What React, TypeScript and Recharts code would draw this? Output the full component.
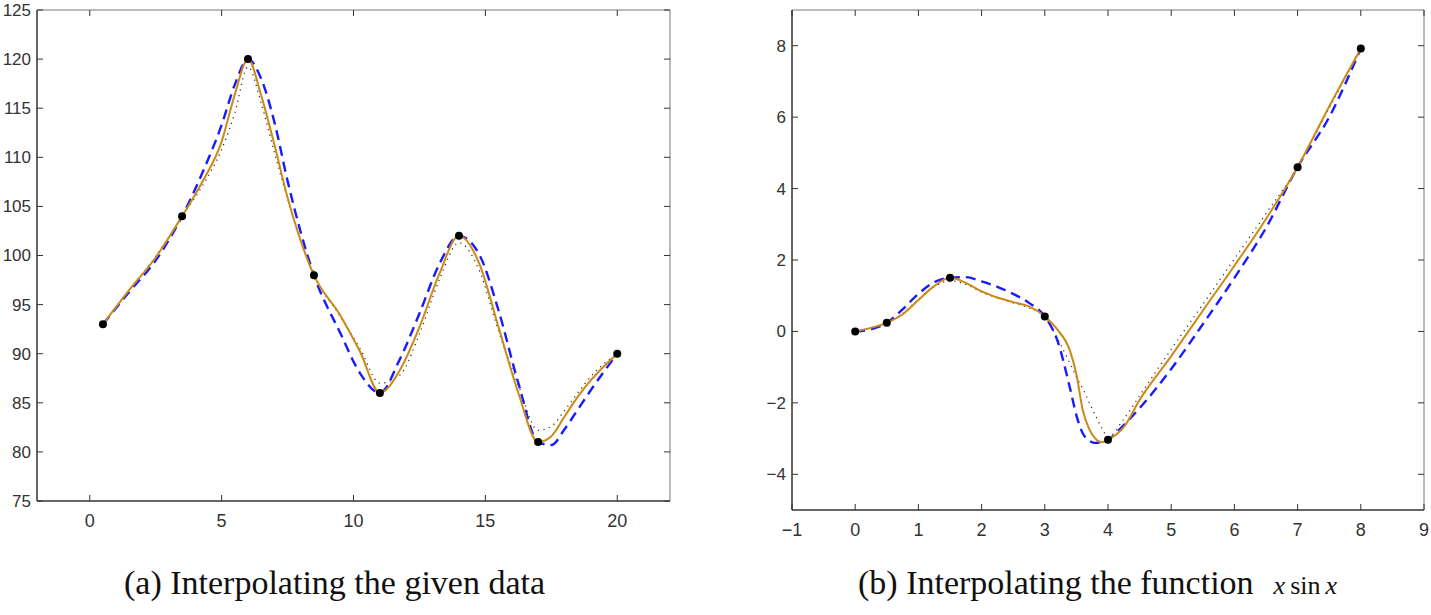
import React from 'react';
import { LineChart, Line, XAxis, YAxis } from 'recharts';

// (a) given data points
const dataAX = [0.5, 3.5, 6, 8.5, 11, 14, 17, 20];
const dataAY = [93, 104, 120, 98, 86, 102, 81, 90];
const ticksAX = [0, 5, 10, 15, 20];
const ticksAY = [75, 80, 85, 90, 95, 100, 105, 110, 115, 120, 125];

// (a) curves on a shared x grid
const gridA = [0.5, 1.5, 2.5, 3.5, 4.25, 5, 5.5, 6, 6.5, 7, 7.5, 8.5, 9.5, 10.25, 11, 11.75, 12.5, 13.25, 14, 14.75, 15.5, 16.25, 17, 17.5, 18, 18.5, 19, 20];
const dottedA = [93, 96.5, 99.9, 104, 107.0, 110.8, 114.5, 119.2, 115.5, 110.5, 105.8, 98, 93.8, 90.5, 87, 87.8, 92, 97.5, 101.3, 98.6, 92.3, 86.8, 82.2, 82.6, 84.2, 86, 87.7, 90];
const splineA = [93, 96.3, 99.5, 104, 108.3, 113.3, 117.4, 120, 118.0, 113.6, 107.6, 98, 92.1, 88.0, 86, 89.4, 94.1, 99.1, 102, 100.2, 94.4, 87, 81, 80.7, 82.3, 84.3, 86.3, 90];
const solidA = [93, 96.5, 99.8, 104, 107.4, 111.6, 116.4, 120, 116.3, 111.3, 105.9, 98, 93.9, 90.2, 86, 88.3, 92.7, 98.1, 102, 99.3, 92.7, 86, 81, 81.6, 83.6, 85.6, 87.3, 90];

// (b) samples of x sin x
const dataBX = [0, 0.5, 1.5, 3, 4, 7, 8];
const dataBY = [0, 0.24, 1.5, 0.42, -3.03, 4.6, 7.92];
const ticksBX = [-1, 0, 1, 2, 3, 4, 5, 6, 7, 8, 9];
const ticksBY = [-4, -2, 0, 2, 4, 6, 8];

// (b) curves
const gridB = [0, 0.25, 0.5, 0.75, 1, 1.25, 1.5, 1.75, 2, 2.25, 2.5, 2.75, 3, 3.2, 3.4, 3.5, 3.6, 3.7, 3.8, 3.9, 4, 4.25, 4.5, 5, 5.5, 6, 6.5, 7, 7.5, 8];
const dottedB = [0, 0.1, 0.24, 0.5, 0.9, 1.25, 1.42, 1.32, 1.1, 0.94, 0.8, 0.66, 0.42, -0.2, -0.9, -1.28, -1.6, -1.98, -2.35, -2.7, -2.95, -2.45, -1.8, -0.5, 0.76, 2.03, 3.3, 4.6, 6.26, 7.92];
const splineB = [0, 0.06, 0.24, 0.62, 1.05, 1.38, 1.5, 1.52, 1.4, 1.25, 1.05, 0.8, 0.42, -0.26, -1.6, -2.35, -2.85, -3.05, -3.12, -3.1, -3.03, -2.62, -2.15, -1.05, 0.2, 1.5, 2.9, 4.6, 6.0, 7.92];
const solidB = [0, 0.1, 0.24, 0.48, 0.88, 1.27, 1.5, 1.36, 1.12, 0.95, 0.82, 0.7, 0.42, 0.05, -0.55, -1.2, -2.2, -2.72, -3.0, -3.1, -3.03, -2.68, -1.92, -0.69, 0.58, 1.84, 3.15, 4.6, 6.3, 7.92];

const pointsA = dataAX.map((x, i) => ({ x, y: dataAY[i] }));
const pointsB = dataBX.map((x, i) => ({ x, y: dataBY[i] }));
const curvesA = gridA.map((x, i) => ({ x, dot: dottedA[i], spl: splineA[i], sol: solidA[i] }));
const curvesB = gridB.map((x, i) => ({ x, dot: dottedB[i], spl: splineB[i], sol: solidB[i] }));

const AXIS = '#333';
const LIGHT = '#777';
const ORANGE = '#cc8a14';
const BLUE = '#1a1aff';
const TICK_FONT = '"Liberation Sans", Arial, sans-serif';
const TICK = 6;

const fmt = (v: number) => (v < 0 ? '\u2212' + Math.abs(v) : String(v));

function makeTick(side: 'bottom' | 'top' | 'left' | 'right') {
  return (props: any) => {
    const { x, y, payload } = props;
    const v = payload.value;
    if (side === 'bottom') {
      return (
        <g>
          <line x1={x} x2={x} y1={y} y2={y - TICK} stroke={AXIS} strokeWidth={1} />
          <text x={x} y={y + 26} textAnchor="middle" fontSize={18} fontFamily={TICK_FONT} fill="#333">
            {fmt(v)}
          </text>
        </g>
      );
    }
    if (side === 'top') {
      return <line x1={x} x2={x} y1={y} y2={y + TICK} stroke={AXIS} strokeWidth={1} />;
    }
    if (side === 'left') {
      return (
        <g>
          <line x1={x} x2={x + TICK} y1={y} y2={y} stroke={AXIS} strokeWidth={1} />
          <text x={x - 6} y={y} dy="0.35em" textAnchor="end" fontSize={17} fontFamily={TICK_FONT} fill="#333">
            {fmt(v)}
          </text>
        </g>
      );
    }
    return <line x1={x} x2={x - TICK} y1={y} y2={y} stroke={AXIS} strokeWidth={1} />;
  };
}

interface PanelProps {
  curves: { x: number; dot: number; spl: number; sol: number }[];
  points: { x: number; y: number }[];
  width: number;
  height: number;
  margin: { top: number; right: number; bottom: number; left: number };
  xDomain: [number, number];
  yDomain: [number, number];
  xTicks: number[];
  yTicks: number[];
}

function Panel({ curves, points, width, height, margin, xDomain, yDomain, xTicks, yTicks }: PanelProps) {
  const common = {
    type: 'number' as const,
    interval: 0 as const,
    allowDataOverflow: true,
    tickSize: 0,
    tickMargin: 0,
    tickLine: false,
  };
  return (
    <LineChart width={width} height={height} margin={margin} style={{ overflow: 'visible' }}>
      <XAxis
        {...common}
        dataKey="x"
        domain={xDomain}
        ticks={xTicks}
        height={1}
        axisLine={{ stroke: AXIS, strokeWidth: 1.5 }}
        tick={makeTick('bottom')}
      />
      <XAxis
        {...common}
        xAxisId="top"
        orientation="top"
        dataKey="x"
        domain={xDomain}
        ticks={xTicks}
        height={1}
        axisLine={{ stroke: LIGHT, strokeWidth: 1 }}
        tick={makeTick('top')}
      />
      <YAxis
        {...common}
        domain={yDomain}
        ticks={yTicks}
        width={1}
        axisLine={{ stroke: AXIS, strokeWidth: 1.5 }}
        tick={makeTick('left')}
      />
      <YAxis
        {...common}
        yAxisId="right"
        orientation="right"
        domain={yDomain}
        ticks={yTicks}
        width={1}
        axisLine={{ stroke: LIGHT, strokeWidth: 1 }}
        tick={makeTick('right')}
      />
      <Line
        data={curves}
        type="monotoneX"
        dataKey="dot"
        stroke="#333"
        strokeWidth={1.3}
        strokeDasharray="1.2 4.5"
        dot={false}
        isAnimationActive={false}
      />
      <Line
        data={curves}
        type="monotoneX"
        dataKey="spl"
        stroke={BLUE}
        strokeWidth={2.4}
        strokeDasharray="10 6"
        dot={false}
        isAnimationActive={false}
      />
      <Line
        data={curves}
        type="monotoneX"
        dataKey="sol"
        stroke={ORANGE}
        strokeWidth={2}
        dot={false}
        isAnimationActive={false}
      />
      <Line
        data={points}
        type="linear"
        dataKey="y"
        stroke="none"
        dot={{ r: 4, fill: '#000', stroke: '#000', strokeWidth: 0 }}
        activeDot={false}
        isAnimationActive={false}
      />
    </LineChart>
  );
}

export default function App() {
  const serif = '"Liberation Serif", "Times New Roman", serif';
  return (
    <div style={{ position: 'absolute', left: 0, top: 0, width: 1431, height: 615, background: '#fff' }}>
      <div style={{ position: 'absolute', left: 0, top: 0 }}>
        <Panel
          curves={curvesA}
          points={pointsA}
          width={700}
          height={540}
          margin={{ top: 9, right: 29, bottom: 38, left: 36 }}
          xDomain={[-2, 22]}
          yDomain={[75, 125]}
          xTicks={ticksAX}
          yTicks={ticksAY}
        />
      </div>
      <div style={{ position: 'absolute', left: 740, top: 0 }}>
        <Panel
          curves={curvesB}
          points={pointsB}
          width={691}
          height={540}
          margin={{ top: 9, right: 6, bottom: 29, left: 51 }}
          xDomain={[-1, 9]}
          yDomain={[-5, 9]}
          xTicks={ticksBX}
          yTicks={ticksBY}
        />
      </div>
      <svg
        width={1431}
        height={615}
        style={{ position: 'absolute', left: 0, top: 0, pointerEvents: 'none' }}
      >
        <text x={124} y={594} fontFamily={serif} fontSize={34} fill="#111">
          (a) Interpolating the given data
        </text>
        <text x={858} y={594} fontFamily={serif} fontSize={34} fill="#111">
          (b) Interpolating the function
          <tspan dx={20} fontSize={26} fontStyle="italic">x</tspan>
          <tspan dx={5} fontSize={26}>sin</tspan>
          <tspan dx={5} fontSize={26} fontStyle="italic">x</tspan>
        </text>
      </svg>
    </div>
  );
}
